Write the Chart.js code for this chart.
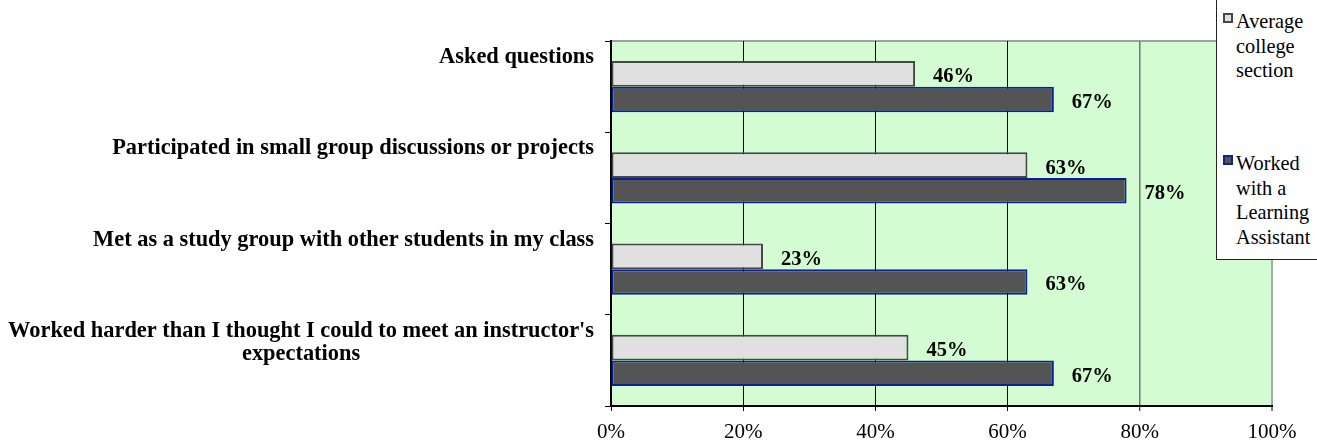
<!DOCTYPE html>
<html>
<head>
<meta charset="utf-8">
<script src="https://cdn.jsdelivr.net/npm/chart.js@4.4.1/dist/chart.umd.min.js"></script>
<style>
html,body{margin:0;padding:0;background:#fff;overflow:hidden;}
#wrap{position:relative;width:1317px;height:440px;overflow:hidden;}
#chartBox{position:absolute;left:0;top:0;width:1317px;height:440px;}
#legend{position:absolute;left:1216px;top:-3px;width:140px;height:263px;border:1px solid #222;background:#fff;box-sizing:border-box;font-family:"Liberation Serif","Times New Roman",serif;font-size:20.3px;line-height:24.5px;color:#000;}
.item{position:absolute;left:19px;width:84px;}
.mk{position:absolute;left:-13px;top:4px;width:10px;height:10px;box-sizing:border-box;}
</style>
</head>
<body>
<div id="wrap">
  <div id="chartBox"><canvas id="c"></canvas></div>
  <div id="legend"></div>
</div>
<script>
// ---- data ----
const categories = [
  "Asked questions",
  "Participated in small group discussions or projects",
  "Met as a study group with other students in my class",
  "Worked harder than I thought I could to meet an instructor's expectations"
];
const seriesNames = ["Average college section", "Worked with a Learning Assistant"];
const averageCollege = [46, 63, 23, 45];
const workedWithLA = [67, 78, 63, 67];
const xTickValues = [0, 20, 40, 60, 80, 100];

// ---- styles ----
const SERIF = '"Liberation Serif", "Times New Roman", serif';
const fills = ['#e0e0e0', '#545454'];
const borders = ['#474747', '#0a2296'];

Chart.defaults.font.family = SERIF;
Chart.defaults.color = '#000';

// legend (HTML)
const legendEl = document.getElementById('legend');
const itemTops = [11, 153];
seriesNames.forEach((name, i) => {
  const d = document.createElement('div');
  d.className = 'item';
  d.style.top = itemTops[i] + 'px';
  const m = document.createElement('span');
  m.className = 'mk';
  m.style.background = fills[i];
  m.style.border = '2px solid ' + borders[i];
  d.appendChild(m);
  d.appendChild(document.createTextNode(name));
  legendEl.appendChild(d);
});

function wrapText(ctx, text, maxW) {
  const words = text.split(' ');
  const lines = [];
  let cur = '';
  words.forEach(w => {
    const t = cur ? cur + ' ' + w : w;
    if (ctx.measureText(t).width > maxW && cur) { lines.push(cur); cur = w; }
    else cur = t;
  });
  if (cur) lines.push(cur);
  return lines;
}

const bgPlugin = {
  id: 'bg',
  beforeDraw(chart) {
    const {ctx, chartArea: a} = chart;
    ctx.save();
    ctx.fillStyle = '#d3fcd3';
    ctx.fillRect(a.left, a.top, a.right - a.left, a.bottom - a.top);
    ctx.strokeStyle = '#a0a0a0';
    ctx.lineWidth = 2;
    ctx.beginPath();
    ctx.moveTo(a.left, a.top);
    ctx.lineTo(a.right + 1, a.top);
    ctx.stroke();
    ctx.restore();
  }
};

const catLabelPlugin = {
  id: 'catLabels',
  afterDraw(chart) {
    const ys = chart.scales.y;
    const ctx = chart.ctx;
    ctx.save();
    ctx.font = 'bold 22.4px ' + SERIF;
    ctx.fillStyle = '#000';
    ctx.textAlign = 'center';
    ctx.textBaseline = 'alphabetic';
    const right = ys.right - 6 - 11;
    categories.forEach((c, i) => {
      const lines = wrapText(ctx, c, 595);
      const w = Math.max(...lines.map(l => ctx.measureText(l).width));
      const cx = right - w / 2;
      const cy = ys.getPixelForValue(i);
      lines.forEach((l, k) => ctx.fillText(l, cx, cy - 23.5 + k * 23));
    });
    ctx.restore();
  }
};

const valueLabelPlugin = {
  id: 'valueLabels',
  afterDatasetsDraw(chart) {
    const ctx = chart.ctx;
    ctx.save();
    ctx.font = 'bold 20.5px ' + SERIF;
    ctx.fillStyle = '#000';
    ctx.textAlign = 'left';
    ctx.textBaseline = 'alphabetic';
    chart.data.datasets.forEach((ds, di) => {
      const meta = chart.getDatasetMeta(di);
      meta.data.forEach((bar, i) => {
        ctx.fillText(ds.data[i] + '%', bar.x + 18, bar.y + 8.5);
      });
    });
    ctx.restore();
  }
};

const gridColors = ['rgba(0,0,0,0)', '#000', '#000', '#000', '#757575', '#a8a8a8'];
const gridWidths = [1, 1, 1, 1, 1.5, 2];

new Chart(document.getElementById('c'), {
  type: 'bar',
  data: {
    labels: categories,
    datasets: [
      { label: seriesNames[0], data: averageCollege, backgroundColor: fills[0], borderColor: borders[0], borderWidth: 2, borderSkipped: false },
      { label: seriesNames[1], data: workedWithLA, backgroundColor: fills[1], borderColor: borders[1], borderWidth: 2, borderSkipped: false }
    ]
  },
  options: {
    indexAxis: 'y',
    responsive: true,
    maintainAspectRatio: false,
    animation: false,
    events: [],
    layout: { padding: { top: 41, right: 45, left: 0, bottom: 0 } },
    datasets: { bar: { categoryPercentage: 0.56, barPercentage: 1.0 } },
    plugins: { legend: { display: false }, tooltip: { enabled: false }, title: { display: false } },
    scales: {
      x: {
        min: 0, max: 100,
        afterBuildTicks(scale) { scale.ticks = xTickValues.map(v => ({ value: v })); },
        afterFit(scale) { scale.height = 34; },
        ticks: { callback: v => v + '%', font: { size: 21, family: SERIF }, color: '#000', padding: 9, maxRotation: 0 },
        grid: {
          color: c => gridColors[c.index] || '#000',
          lineWidth: c => gridWidths[c.index] || 1,
          drawTicks: true, tickLength: 5, tickColor: '#000', tickWidth: 1
        },
        border: { display: true, color: '#000', width: 2 }
      },
      y: {
        afterFit(scale) { scale.width = 611; },
        ticks: { display: false },
        grid: { drawOnChartArea: false, drawTicks: true, tickLength: 6, color: '#000', tickColor: '#000', lineWidth: 1 },
        border: { display: true, color: '#000', width: 2 }
      }
    }
  },
  plugins: [bgPlugin, valueLabelPlugin, catLabelPlugin]
});
</script>
</body>
</html>
